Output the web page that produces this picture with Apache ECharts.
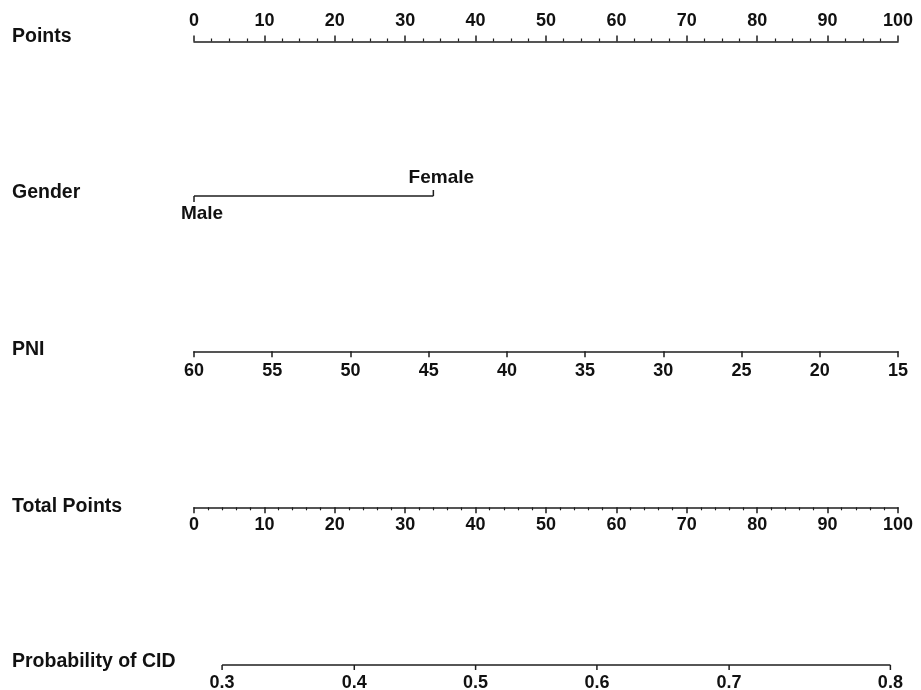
<!DOCTYPE html>
<html>
<head>
<meta charset="utf-8">
<script src="https://cdn.jsdelivr.net/npm/echarts@6/dist/echarts.min.js"></script>
<style>html,body{margin:0;padding:0;background:#fff}#c{width:921px;height:690px}</style>
</head>
<body>
<div id="c"></div>
<script>
// ---- data ----
const rowNames = ['Points', 'Gender', 'PNI', 'Total Points', 'Probability of CID'];
const pointsRange = [0, 100];
const pointsInterval = 10;
const genderLevels = ['Male', 'Female'];
const genderPoints = [0, 34];
const genderSide = [1, -1]; // label below / above the line
const pniRange = [15, 60];     // 60 -> 0 points, 15 -> 100 points
const pniInterval = 5;
const totalRange = [0, 100];
const totalInterval = 10;
const probTicks = [0.3, 0.4, 0.5, 0.6, 0.7, 0.8];
const probCenterPoints = 40;     // total points where probability = 0.5
const pointsPerLogit = 42.5;     // total points per unit of linear predictor

// ---- helpers ----
const FONT = '"Liberation Sans", Arial, sans-serif';
const INK = '#111';
const LINE = '#1e1e1e';
const logit = p => Math.log(p / (1 - p));
const probToPoints = p => probCenterPoints + pointsPerLogit * logit(p);

const gridL = 194, gridR = 23;
const lineY = [40.5, 196, 352.3, 508.3, 665];
const nameY = [37, 193, 350, 506.3, 661.3];

const labelStyle = {color: INK, fontWeight: 'bold', fontSize: 18, fontFamily: FONT};
const axisLineStyle = {show: true, lineStyle: {color: LINE, width: 1.6}};

const chart = echarts.init(document.getElementById('c'), null, {renderer: 'canvas'});

const option = {
  backgroundColor: '#fff',
  animation: false,
  grid: [
    {left: gridL, right: gridR, top: lineY[0], height: 2},
    {left: gridL, right: gridR, top: lineY[1] - 10, height: 20},
    {left: gridL, right: gridR, top: lineY[2] - 2, height: 2},
    {left: gridL, right: gridR, top: lineY[3] - 2, height: 2},
    {left: gridL, right: gridR, top: lineY[4] - 10, height: 20}
  ],
  xAxis: [
    {gridIndex: 0, type: 'value', position: 'top', min: pointsRange[0], max: pointsRange[1], interval: pointsInterval,
      axisLine: axisLineStyle, axisTick: {show: true, inside: false, length: 6, lineStyle: {color: LINE, width: 1.5}},
      minorTick: {show: true, splitNumber: 4, length: 3, lineStyle: {color: LINE, width: 1.2}},
      axisLabel: Object.assign({margin: 10}, labelStyle), splitLine: {show: false}},
    {gridIndex: 1, type: 'value', min: pointsRange[0], max: pointsRange[1], show: false},
    {gridIndex: 2, type: 'value', position: 'bottom', min: pniRange[0], max: pniRange[1], interval: pniInterval, inverse: true,
      axisLine: axisLineStyle, axisTick: {show: true, inside: false, length: 6, lineStyle: {color: LINE, width: 1.5}},
      axisLabel: Object.assign({margin: 10}, labelStyle), splitLine: {show: false}},
    {gridIndex: 3, type: 'value', position: 'bottom', min: totalRange[0], max: totalRange[1], interval: totalInterval,
      axisLine: axisLineStyle, axisTick: {show: true, inside: false, length: 6, lineStyle: {color: LINE, width: 1.5}},
      minorTick: {show: true, splitNumber: 5, length: 3, lineStyle: {color: LINE, width: 1.2}},
      axisLabel: Object.assign({margin: 8}, labelStyle), splitLine: {show: false}},
    {gridIndex: 4, type: 'value', min: totalRange[0], max: totalRange[1], show: false}
  ],
  yAxis: [0, 1, 2, 3, 4].map(i => ({gridIndex: i, type: 'value', min: -1, max: 1, show: false})),
  graphic: rowNames.map((t, i) => ({
    type: 'text', x: 12, y: nameY[i],
    style: {text: t, font: 'bold 19.5px ' + FONT, fill: INK, verticalAlign: 'middle', textVerticalAlign: 'middle'}
  })),
  series: [
    // Gender line
    {type: 'line', xAxisIndex: 1, yAxisIndex: 1, symbol: 'none', silent: true,
      lineStyle: {color: LINE, width: 1.6},
      data: [[Math.min(...genderPoints), 0], [Math.max(...genderPoints), 0]]},
    // Gender ticks + labels
    {type: 'custom', xAxisIndex: 1, yAxisIndex: 1, silent: true,
      data: genderPoints.map((p, i) => [p, 0, genderSide[i]]),
      renderItem: function (params, api) {
        const pt = api.coord([api.value(0), 0]);
        const side = api.value(2);
        return {type: 'group', children: [
          {type: 'line', shape: {x1: pt[0], y1: pt[1], x2: pt[0], y2: pt[1] + side * 6},
            style: {stroke: LINE, lineWidth: 1.5}},
          {type: 'text', x: pt[0] + 8, y: pt[1] + side * 18,
            style: {text: genderLevels[params.dataIndex], font: 'bold 19px ' + FONT, fill: INK,
              align: 'center', textAlign: 'center', verticalAlign: 'middle', textVerticalAlign: 'middle'}}
        ]};
      }},
    // Probability axis line
    {type: 'line', xAxisIndex: 4, yAxisIndex: 4, symbol: 'none', silent: true,
      lineStyle: {color: LINE, width: 1.6},
      data: [[probToPoints(probTicks[0]), 0], [probToPoints(probTicks[probTicks.length - 1]), 0]]},
    // Probability ticks + labels
    {type: 'custom', xAxisIndex: 4, yAxisIndex: 4, silent: true,
      data: probTicks.map(p => [probToPoints(p), 0, p]),
      renderItem: function (params, api) {
        const pt = api.coord([api.value(0), 0]);
        return {type: 'group', children: [
          {type: 'line', shape: {x1: pt[0], y1: pt[1], x2: pt[0], y2: pt[1] + 5},
            style: {stroke: LINE, lineWidth: 1.5}},
          {type: 'text', x: pt[0], y: pt[1] + 18,
            style: {text: String(api.value(2)), font: 'bold 18px ' + FONT, fill: INK,
              align: 'center', textAlign: 'center', verticalAlign: 'middle', textVerticalAlign: 'middle'}}
        ]};
      }}
  ]
};
chart.setOption(option);
</script>
</body>
</html>
